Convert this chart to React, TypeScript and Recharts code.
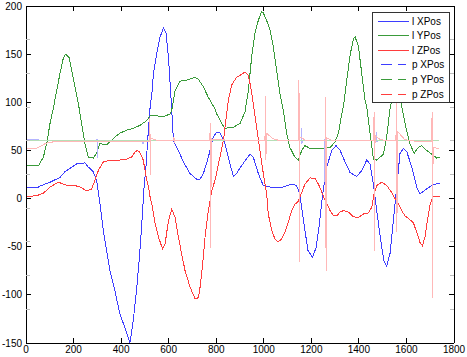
import React from 'react';
import { LineChart, Line, XAxis, YAxis } from 'recharts';

const xTicks = [0, 200, 400, 600, 800, 1000, 1200, 1400, 1600, 1800];
const yTicks = [-150, -100, -50, 0, 50, 100, 150, 200];
// faint grey ticks of a second axis that show on both sides of the box
const minorYTicks = [165, 130, 94.5, 60, 25, -10.5, -45, -80, -115.5];
const allYTicks = [...yTicks, ...minorYTicks].sort((a, b) => a - b);

// [sample, value]
const lXPos: [number, number][] = [
  [0, 11], [45, 11], [59, 13], [101, 17], [143, 22], [164, 28], [213, 36], [248, 37], [261, 33], [282, 28],
  [297, 19], [311, -5], [325, -33], [339, -54], [353, -75], [374, -96], [395, -120], [416, -134], [437, -150],
  [451, -127], [466, -92], [477, -61], [487, -26], [496, 10], [505, 35], [513, 65], [522, 95], [529, 108],
  [536, 130], [550, 151], [564, 168], [578, 177], [589, 172], [599, 147], [606, 120], [613, 92], [620, 60],
  [641, 50], [662, 38], [690, 26], [718, 20], [732, 20], [746, 26], [767, 43], [788, 64], [802, 69], [816, 68],
  [837, 57], [858, 36], [872, 23], [886, 26], [900, 32], [942, 46], [956, 43], [977, 26], [998, 13.5],
  [1026, 12], [1068, 11], [1117, 15], [1138, 13.5], [1152, 5], [1159, -9], [1173, -33], [1186, -54],
  [1205, -61], [1220, -51], [1234, -26], [1248, 5], [1265, 33], [1286, 50], [1304, 55], [1321, 50],
  [1342, 38], [1363, 27], [1391, 23], [1412, 29], [1433, 40], [1447, 36], [1461, 15], [1475, -12.5],
  [1492, -44], [1506, -65], [1517, -70], [1531, -57], [1545, -23], [1559, 12], [1573, 47], [1587, 52],
  [1601, 49], [1622, 33], [1643, 12], [1657, 5], [1685, 10], [1706, 13.5], [1734, 16], [1740, 16],
];

const lYPos: [number, number][] = [
  [0, 34], [52, 34], [73, 43], [87, 57], [101, 78], [115, 94], [129, 112], [143, 130], [157, 146], [167, 150],
  [182, 146], [192, 133], [206, 116], [220, 99], [234, 78], [248, 57], [262, 43], [283, 42], [297, 47],
  [311, 57], [339, 56], [353, 59], [374, 64], [395, 68], [423, 71], [451, 73], [479, 76], [508, 81], [522, 86],
  [550, 86], [578, 85], [606, 88], [613, 92], [627, 112], [648, 122], [676, 123], [711, 126], [725, 124],
  [746, 116], [767, 105], [795, 93], [802, 88], [823, 78], [837, 73], [872, 74], [900, 78], [921, 90],
  [935, 112], [949, 147], [963, 172], [977, 185], [991, 194], [998, 193], [1012, 185], [1026, 175],
  [1040, 158], [1054, 133], [1068, 109], [1082, 92], [1096, 68], [1110, 53], [1131, 43], [1145, 40],
  [1160, 50], [1173, 55], [1195, 52], [1237, 52], [1279, 53], [1300, 59], [1314, 68], [1328, 88], [1335, 96],
  [1349, 123], [1363, 149], [1377, 166], [1384, 168], [1398, 158], [1412, 130], [1426, 102], [1433, 95],
  [1447, 68], [1461, 41], [1475, 40], [1503, 46], [1517, 64], [1529, 90], [1540, 105], [1556, 115],
  [1573, 105], [1586, 88], [1601, 70], [1615, 57], [1632, 47], [1650, 53], [1664, 55], [1685, 50],
  [1713, 45], [1727, 42], [1740, 43],
];

const lZPos: [number, number][] = [
  [0, 2], [45, 3], [73, 5.5], [101, 12], [122, 15], [136, 17], [157, 15], [178, 13.5], [199, 14], [227, 12],
  [255, 8], [276, 10], [290, 19], [304, 29], [325, 38], [353, 40], [395, 40], [423, 41], [444, 43], [458, 48],
  [468, 50], [479, 48], [493, 40], [508, 19], [515, 12], [522, 1.4], [529, -5.5], [543, -26], [557, -40],
  [574, -52], [585, -47], [599, -23], [613, -11], [627, -19.5], [641, -40], [655, -58], [669, -75], [690, -92],
  [711, -104], [725, -103], [732, -92], [743, -68], [753, -40], [767, -12.5], [781, 8], [795, 19], [830, 60],
  [851, 102], [865, 118], [886, 126], [900, 128], [921, 131.5], [935, 128], [945, 116], [954, 102], [970, 74],
  [984, 50], [998, 26], [1012, 5], [1019, -16], [1033, -33], [1047, -42], [1061, -45], [1075, -42],
  [1089, -35], [1103, -25], [1117, -12.5], [1131, -6], [1145, -3], [1160, 6.5], [1173, 15], [1187, 19],
  [1195, 21.5], [1216, 20.5], [1230, 15], [1244, 6.5], [1258, -2], [1279, -12.5], [1293, -18], [1307, -18],
  [1321, -14], [1335, -12.5], [1356, -14], [1377, -19], [1398, -19.5], [1419, -16], [1440, -15], [1454, -9],
  [1464, 5], [1475, 13.5], [1496, 17], [1517, 13.5], [1538, 6.5], [1552, 0], [1566, -5.5], [1580, -12.5],
  [1594, -18], [1615, -22], [1629, -25], [1643, -35], [1657, -45.5], [1667, -49], [1678, -40], [1688, -23],
  [1699, -7], [1710, 2], [1740, 2],
];

const pXPos: [number, number][] = [
  [0, 61], [50, 61], [65, 60], [297, 60], [299, 62], [300, 42], [302, 60], [490, 60], [492, 57], [494, 60],
  [1157, 60], [1159, 73], [1160, 57], [1162, 60], [1253, 60], [1255, 62], [1256, 17], [1258, 60],
  [1473, 60], [1475, 69], [1476, 59], [1478, 60], [1737, 60],
];

const pYPos: [number, number][] = [
  [0, 60], [400, 60], [800, 60], [1200, 60], [1600, 60], [1737, 60],
];

const pZPos: [number, number][] = [
  [0, 52], [45, 52.5], [59, 54], [80, 57], [101, 58.6], [130, 59], [519, 59], [521, 84], [523, 24],
  [525, 63], [540, 61], [570, 60], [620, 60], [622, 64], [624, 58], [626, 60], [773, 60], [775, 78],
  [777, -51], [779, 62], [800, 61], [1005, 60], [1007, 107], [1009, 40], [1011, 68], [1040, 62], [1070, 60],
  [1146, 60], [1148, 123], [1150, -66], [1152, 64], [1180, 60], [1258, 60], [1260, 105], [1262, -75],
  [1264, 63], [1290, 60], [1462, 60], [1464, 90], [1466, -54], [1468, 66], [1490, 61], [1556, 60],
  [1558, 126], [1560, -35], [1562, 70], [1590, 62], [1610, 60], [1706, 59], [1708, 90], [1710, -103],
  [1712, 53], [1737, 52],
];

const SERIES = [
  { name: 'l XPos', points: lXPos, stroke: '#3d3dff', legend: '#3d3dff', dashed: false },
  { name: 'l YPos', points: lYPos, stroke: '#3a9b3a', legend: '#3a9b3a', dashed: false },
  { name: 'l ZPos', points: lZPos, stroke: '#ff3d3d', legend: '#ff3d3d', dashed: false },
  { name: 'p XPos', points: pXPos, stroke: '#b4b4ff', legend: '#3d3dff', dashed: true },
  { name: 'p YPos', points: pYPos, stroke: '#b6deb6', legend: '#3a9b3a', dashed: true },
  { name: 'p ZPos', points: pZPos, stroke: '#ffb8b8', legend: '#ff3d3d', dashed: true },
];

const FONT = '"Liberation Sans", Arial, sans-serif';
const TICK_LEN = 5;

// matlab style: ticks point into the box, grey ones belong to the hidden second axis
const LeftTick = ({ x, y, payload }: any) => {
  const major = yTicks.includes(payload.value);
  return (
    <g>
      <line x1={x} x2={x + (major ? TICK_LEN : 4)} y1={y} y2={y} stroke={major ? '#000' : '#bdbdbd'} shapeRendering="crispEdges" />
      {major && (
        <text x={x - 4} y={y} dy="0.35em" textAnchor="end" fontSize={10} fontFamily={FONT} fill="#000">
          {payload.value}
        </text>
      )}
    </g>
  );
};

const RightTick = ({ x, y, payload }: any) => {
  const major = yTicks.includes(payload.value);
  return (
    <line x1={x - (major ? TICK_LEN : 4)} x2={x} y1={y} y2={y} stroke={major ? '#000' : '#bdbdbd'} shapeRendering="crispEdges" />
  );
};

const BottomTick = ({ x, y, payload }: any) => (
  <g>
    <line x1={x} x2={x} y1={y - TICK_LEN} y2={y} stroke="#000" shapeRendering="crispEdges" />
    <text x={x} y={y + 3} dy="0.71em" textAnchor="middle" fontSize={10} fontFamily={FONT} fill="#000">
      {payload.value}
    </text>
  </g>
);

const TopTick = ({ x, y }: any) => (
  <line x1={x} x2={x} y1={y} y2={y + TICK_LEN} stroke="#000" shapeRendering="crispEdges" />
);

const MatlabLegend = () => (
  <div
    style={{
      position: 'absolute',
      left: 372,
      top: 12,
      width: 78,
      height: 91,
      border: '1px solid #333',
      background: '#fff',
      boxSizing: 'border-box',
    }}
  >
    <svg width={76} height={89} style={{ display: 'block' }}>
      {SERIES.map((s, i) => {
        const y = 8 + i * 14.6;
        return (
          <g key={s.name}>
            <line
              x1={s.dashed ? 8 : 5}
              x2={s.dashed ? 33 : 36}
              y1={y}
              y2={y}
              stroke={s.legend}
              strokeWidth={1}
              shapeRendering="crispEdges"
              strokeDasharray={s.dashed ? '11 6' : undefined}
            />
            <text x={39} y={y} dy="0.35em" fontSize={10} fontFamily={FONT} fill="#000">
              {s.name}
            </text>
          </g>
        );
      })}
    </svg>
  </div>
);

export default function App() {
  return (
    <div style={{ position: 'absolute', left: 0, top: 0, width: 467, height: 357, background: '#fff' }}>
      <LineChart width={467} height={357} margin={{ top: 0, right: 0, bottom: 0, left: 0 }}>
        <XAxis
          type="number"
          dataKey="x"
          domain={[0, 1800]}
          ticks={xTicks}
          interval={0}
          allowDataOverflow
          height={14}
          tickSize={0}
          tickMargin={0}
          tick={<BottomTick />}
          tickLine={false}
          axisLine={{ stroke: '#000', shapeRendering: 'crispEdges' }}
        />
        <XAxis
          xAxisId="top"
          orientation="top"
          type="number"
          dataKey="x"
          domain={[0, 1800]}
          ticks={xTicks}
          interval={0}
          allowDataOverflow
          height={6}
          tickSize={0}
          tickMargin={0}
          tick={<TopTick />}
          tickLine={false}
          axisLine={{ stroke: '#000', shapeRendering: 'crispEdges' }}
        />
        <YAxis
          type="number"
          domain={[-150, 200]}
          ticks={allYTicks}
          interval={0}
          allowDataOverflow
          width={26}
          tickSize={0}
          tickMargin={0}
          tick={<LeftTick />}
          tickLine={false}
          axisLine={{ stroke: '#000', shapeRendering: 'crispEdges' }}
        />
        <YAxis
          yAxisId="right"
          orientation="right"
          type="number"
          domain={[-150, 200]}
          ticks={allYTicks}
          interval={0}
          allowDataOverflow
          width={13}
          tickSize={0}
          tickMargin={0}
          tick={<RightTick />}
          tickLine={false}
          axisLine={{ stroke: '#000', shapeRendering: 'crispEdges' }}
        />
        {SERIES.map((s) => (
          <Line
            key={s.name}
            name={s.name}
            data={s.points.map(([x, y]) => ({ x, y }))}
            dataKey="y"
            type="linear"
            stroke={s.stroke}
            strokeWidth={1}
            shapeRendering="crispEdges"
            dot={false}
            activeDot={false}
            isAnimationActive={false}
          />
        ))}
      </LineChart>
      <MatlabLegend />
    </div>
  );
}
